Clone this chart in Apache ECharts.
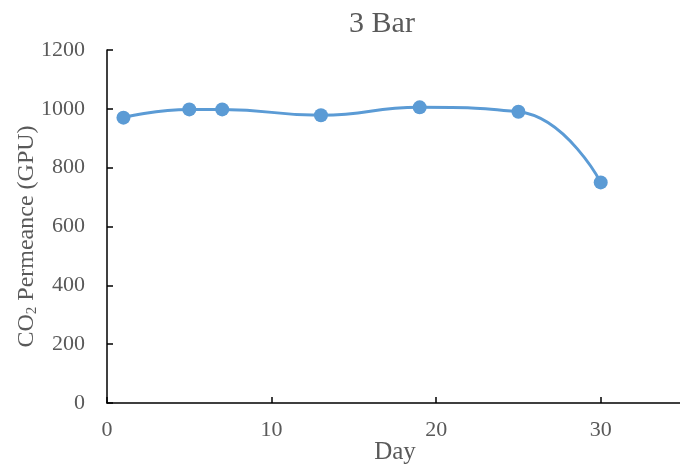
<!DOCTYPE html>
<html><head><meta charset="utf-8">
<script src="https://cdn.jsdelivr.net/npm/echarts@6/dist/echarts.min.js"></script>
<style>html,body{margin:0;padding:0;background:#fff}#c{width:680px;height:473px}</style>
</head><body><div id="c"></div>
<script>
const days = [1, 5, 7, 13, 19, 25, 30];
const permeance = [970, 998, 998, 978, 1005, 990, 750];
const title = '3 Bar';
const xName = 'Day';
const FONT = '"Liberation Serif", "Times New Roman", serif';
const chart = echarts.init(document.getElementById('c'));
chart.setOption({
  animation: false,
  title: { text: title, left: 377, textAlign: 'center', top: 4,
    textStyle: { fontFamily: FONT, fontSize: 30, fontWeight: 'normal', color: '#595959' } },
  grid: { left: 107, right: -3, top: 50, bottom: 70, containLabel: false, outerBoundsMode: 'none' },
  xAxis: {
    type: 'value', min: 0, max: 35, interval: 10,
    name: xName, nameLocation: 'middle', nameGap: 37, nameMoveOverlap: false,
    nameTextStyle: { fontFamily: FONT, fontSize: 25, color: '#595959' },
    axisLine: { show: true, onZero: false, lineStyle: { color: '#000', width: 1.5 } },
    axisTick: { show: true, inside: true, length: 6, lineStyle: { color: '#000', width: 1.5 } },
    axisLabel: { fontFamily: FONT, fontSize: 22, color: '#595959', margin: 16,
      formatter: v => (v % 10 === 0 && v <= 30) ? String(v) : '' },
    splitLine: { show: false }
  },
  yAxis: {
    type: 'value', min: 0, max: 1200, interval: 200,
    name: '{n|CO}{s|2}{n| Permeance (GPU)}', nameLocation: 'middle', nameGap: 67, nameRotate: 90,
    nameMoveOverlap: false,
    nameTextStyle: { fontFamily: FONT, fontSize: 24, color: '#595959', padding: [0, 20, 0, 0],
      rich: { n: { fontFamily: FONT, fontSize: 24, color: '#595959' },
              s: { fontFamily: FONT, fontSize: 15, color: '#595959', padding: [11, 0, 0, 0] } } },
    axisLine: { show: true, lineStyle: { color: '#000', width: 1.5 } },
    axisTick: { show: true, inside: true, length: 6, lineStyle: { color: '#000', width: 1.5 } },
    axisLabel: { fontFamily: FONT, fontSize: 22, color: '#595959', margin: 22,
      formatter: v => String(v) },
    splitLine: { show: false }
  },
  series: [{
    type: 'line', data: days.map((d, i) => [d, permeance[i]]),
    smooth: 0.5, symbol: 'circle', symbolSize: 14,
    lineStyle: { color: '#5B9BD5', width: 3 },
    itemStyle: { color: '#5B9BD5' }
  }]
});
</script></body></html>
